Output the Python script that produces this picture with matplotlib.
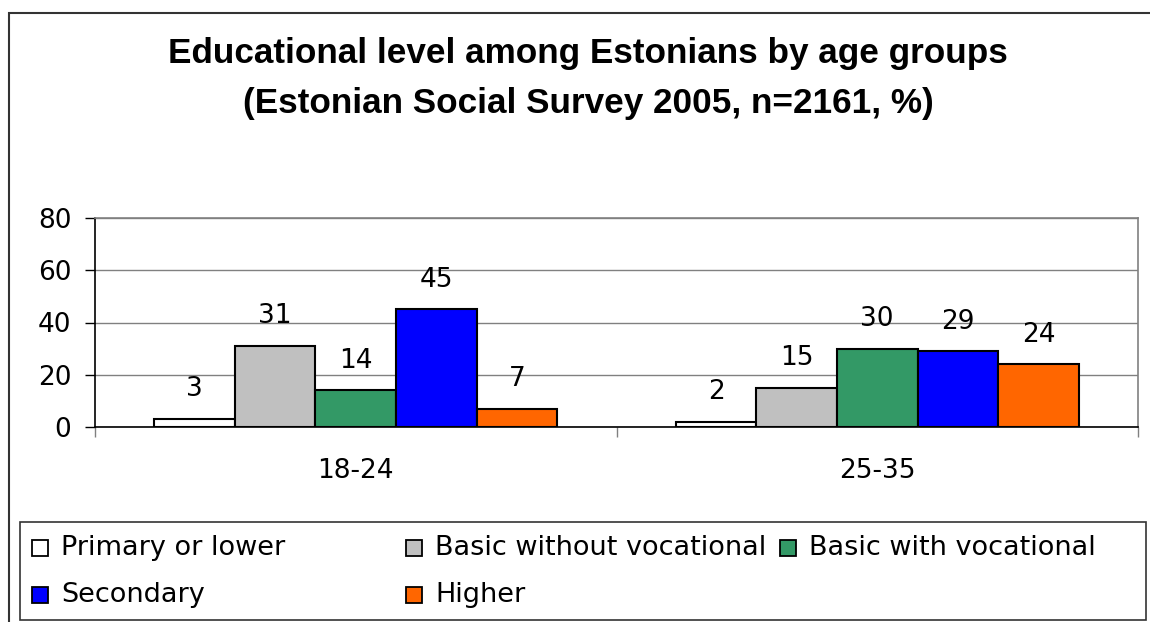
import numpy as np
import matplotlib as mpl
mpl.use('Agg')
from matplotlib import pyplot as plt
from matplotlib.patches import Rectangle

# chart data
age_groups = ["18-24", "25-35"]
levels = ["Primary or lower", "Basic without vocational", "Basic with vocational",
          "Secondary", "Higher"]
primary = [3, 2]
basic_no_voc = [31, 15]
basic_voc = [14, 30]
secondary = [45, 29]
higher = [7, 24]
colors = ["#FFFFFF", "#C0C0C0", "#339966", "#0000FF", "#FF6600"]

W, H = 1150, 622
plt.rcParams['font.family'] = ['DejaVu Sans']


def fx(px):
    return px / W


def fy(py):
    return 1 - py / H


fig = plt.figure(figsize=(W / 100, H / 100), dpi=100)
ax = fig.add_axes([fx(95), fy(427), fx(1138) - fx(95), fy(218) - fy(427)])

series = [primary, basic_no_voc, basic_voc, secondary, higher]
x = np.arange(len(age_groups))
bw = 0.1546
for i, vals in enumerate(series):
    pos = x + (i - 2) * bw
    bars = ax.bar(pos, vals, width=bw, color=colors[i], edgecolor="black",
                  linewidth=1.5, zorder=3)
    for b, v in zip(bars, vals):
        ax.annotate(str(v), (b.get_x() + b.get_width() / 2, v),
                    xytext=(0, 12), textcoords="offset points",
                    ha="center", va="bottom", fontsize=19)

ax.set_xlim(-0.5, 1.5)
ax.set_ylim(0, 80)
ax.set_yticks([0, 20, 40, 60, 80])
ax.tick_params(axis="y", labelsize=19, length=7, width=1, pad=10)
ax.grid(axis="y", color="#808080", linewidth=1, zorder=0)
ax.set_xticks(x)
ax.set_xticklabels(age_groups, fontsize=19)
ax.tick_params(axis="x", length=0, pad=22)
ax.set_xticks([-0.5, 0.5, 1.5], minor=True)
ax.tick_params(axis="x", which="minor", length=7, width=1, color="#808080")
for s in ["left", "bottom"]:
    ax.spines[s].set_color("black")
    ax.spines[s].set_linewidth(1.2)
for s in ["top", "right"]:
    ax.spines[s].set_color("#808080")
    ax.spines[s].set_linewidth(1.2)

# title
title_font = ['Liberation Sans', 'DejaVu Sans']
fig.text(fx(588), fy(54), "Educational level among Estonians by age groups",
         ha="center", va="center", fontsize=25.3, fontweight="bold", family=title_font)
fig.text(fx(588), fy(103), "(Estonian Social Survey 2005, n=2161, %)",
         ha="center", va="center", fontsize=25.3, fontweight="bold", family=title_font)

# outer frame
fig.patches.append(Rectangle((fx(9), fy(630)), fx(1160) - fx(9), fy(13) - fy(630),
                             transform=fig.transFigure, fill=False,
                             edgecolor="#333333", linewidth=1.5))

# legend box
fig.patches.append(Rectangle((fx(20), fy(620)), fx(1146) - fx(20), fy(522) - fy(620),
                             transform=fig.transFigure, fill=False,
                             edgecolor="#333333", linewidth=1.2))
col_x = [32, 406, 780]
row_y = [548, 595]
for i, name in enumerate(levels):
    cx = col_x[i % 3]
    cy = row_y[i // 3]
    fig.patches.append(Rectangle((fx(cx), fy(cy + 8)), fx(16), 16 / H,
                                 transform=fig.transFigure, facecolor=colors[i],
                                 edgecolor="black", linewidth=1.3))
    fig.text(fx(cx + 29), fy(cy), name, ha="left", va="center", fontsize=19.5)

fig.savefig("out.png", dpi=100)
